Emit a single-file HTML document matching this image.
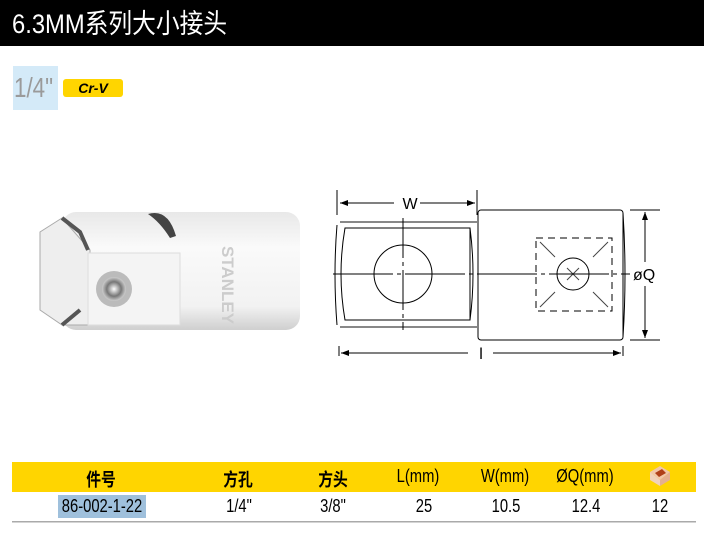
<!DOCTYPE html>
<html><head><meta charset="utf-8"><style>
body{margin:0;width:704px;height:535px;background:#fff;position:relative;overflow:hidden;font-family:"Liberation Sans","Noto Sans CJK SC",sans-serif}
.a{position:absolute}
.hdr{left:12px;top:0;height:46px;color:#fff;font-size:27px;line-height:48px;white-space:nowrap;transform:scaleX(0.88);transform-origin:left}
.c{position:absolute;text-align:center;transform:translateX(-50%) scaleX(0.82);white-space:nowrap;font-size:18px}
</style></head><body>
<div class="a" style="left:0;top:0;width:704px;height:46px;background:#000"></div>
<div class="a hdr">6.3MM系列大小接头</div>
<div class="a" style="left:13px;top:66px;width:45px;height:44px;background:#d4eaf8"></div>
<div class="a" style="left:14px;top:66px;color:#9a9a9a;font-size:28px;line-height:44px;transform:scaleX(0.8);transform-origin:left">1/4"</div>
<div class="a" style="left:63px;top:79px;width:60px;height:18px;background:#ffd500;border-radius:3px;font-size:14px;font-weight:bold;font-style:italic;text-align:center;line-height:18px">Cr-V</div>

<svg class="a" style="left:0;top:0" width="704" height="535">
<defs>
<linearGradient id="g1" x1="0" y1="0" x2="0" y2="1"><stop offset="0" stop-color="#e8e8e8"/><stop offset=".3" stop-color="#fafafa"/><stop offset=".8" stop-color="#f2f2f2"/><stop offset="1" stop-color="#cfcfcf"/></linearGradient>
<radialGradient id="g2"><stop offset="0" stop-color="#fff"/><stop offset=".6" stop-color="#777"/><stop offset="1" stop-color="#ccc"/></radialGradient>
</defs>
<rect x="62" y="212" width="238" height="118" rx="14" fill="url(#g1)"/>
<path d="M62 218 L40 232 L40 310 L62 325 L90 325 L90 250 Z" fill="#eee" stroke="#aaa"/>
<path d="M62 218 L80 232 L88 250" stroke="#555" stroke-width="4" fill="none"/>
<path d="M62 325 L80 310" stroke="#555" stroke-width="4" fill="none"/>
<rect x="88" y="253" width="92" height="72" fill="#f4f4f4" stroke="#ddd"/>
<circle cx="114" cy="289" r="18" fill="#bbb"/><circle cx="114" cy="289" r="12" fill="url(#g2)"/>
<path d="M148 214 Q168 208 176 236 L170 238 Q160 222 148 214Z" fill="#444"/>
<text x="222" y="285" transform="rotate(90 222 285)" font-size="17" fill="#ccc" font-weight="bold" text-anchor="middle">STANLEY</text>
<g stroke="#000" fill="none" stroke-width="1">
<path d="M340 222 L477 222 M340 327 L477 327" stroke="#888" stroke-width="2"/>
<path d="M345 228 L470 228 L470 320 L345 320 Q337 274 345 228Z"/>
<path d="M337 225 Q333 274 337 325"/>
<path d="M470 228 Q476 274 470 320"/>
<rect x="478" y="210" width="145" height="130" rx="3"/>
<path d="M623 213 Q627 275 623 337" />
<circle cx="403" cy="274" r="29"/>
<circle cx="573" cy="274" r="16"/>
<rect x="536" y="238" width="76" height="73" stroke-dasharray="7 5"/>
<path d="M540 242 L555 257 M608 242 L593 257 M540 307 L555 292 M608 307 L593 292 M567 268 L579 280 M579 268 L567 280" stroke="#444"/>
<path d="M333 274 L630 274" stroke-dasharray="60 4 4 4"/>
<path d="M403 218 L403 330" stroke-dasharray="40 4 4 4"/>
<path d="M337 190 L337 215 M477 190 L477 215 M340 203 L394 203 M420 203 L475 203"/>
<path d="M339 346 L339 356 M623 346 L623 356 M341 353 L468 353 M493 353 L621 353"/>
<path d="M630 210 L660 210 M630 340 L660 340 M645 212 L645 262 M645 286 L645 338"/>
</g>
<g fill="#000">
<path d="M340 203 l8 -3 l0 6z M475 203 l-8 -3 l0 6z M341 353 l8 -3 l0 6z M621 353 l-8 -3 l0 6z M645 212 l-3 8 l6 0z M645 338 l-3 -8 l6 0z"/>
</g>
<text x="410" y="209" font-size="16" text-anchor="middle">W</text>
<text x="481" y="359" font-size="16" text-anchor="middle">l</text>
<text x="633" y="280" font-size="16">øQ</text>
<rect x="12" y="462" width="684" height="30" fill="#ffd500"/>
<rect x="12" y="521" width="684" height="1.5" fill="#aaa"/>
<rect x="58" y="495" width="88" height="23" fill="#9fc0dc"/>
<g transform="translate(660 476)"><path d="M-10 -4 L0 -10 L10 -4 L0 4Z" fill="#f2c7a8"/><path d="M-10 -4 L0 4 L0 10 L-10 4Z" fill="#f0d2bb"/><path d="M10 -4 L0 4 L0 10 L10 4Z" fill="#e5b090"/><path d="M-5 -3 L2 -7 L6 -3 L-1 1Z" fill="#b04018"/></g>
</svg>
<div class="c" style="left:101px;top:466px;font-weight:bold">件号</div>
<div class="c" style="left:238px;top:466px;font-weight:bold">方孔</div>
<div class="c" style="left:333px;top:466px;font-weight:bold">方头</div>
<div class="c" style="left:418px;top:466px">L(mm)</div>
<div class="c" style="left:505px;top:466px">W(mm)</div>
<div class="c" style="left:585px;top:466px">ØQ(mm)</div>
<div class="c" style="left:102px;top:496px">86-002-1-22</div>
<div class="c" style="left:239px;top:496px">1/4"</div>
<div class="c" style="left:333px;top:496px">3/8"</div>
<div class="c" style="left:424px;top:496px">25</div>
<div class="c" style="left:506px;top:496px">10.5</div>
<div class="c" style="left:586px;top:496px">12.4</div>
<div class="c" style="left:660px;top:496px">12</div>
</body></html>
